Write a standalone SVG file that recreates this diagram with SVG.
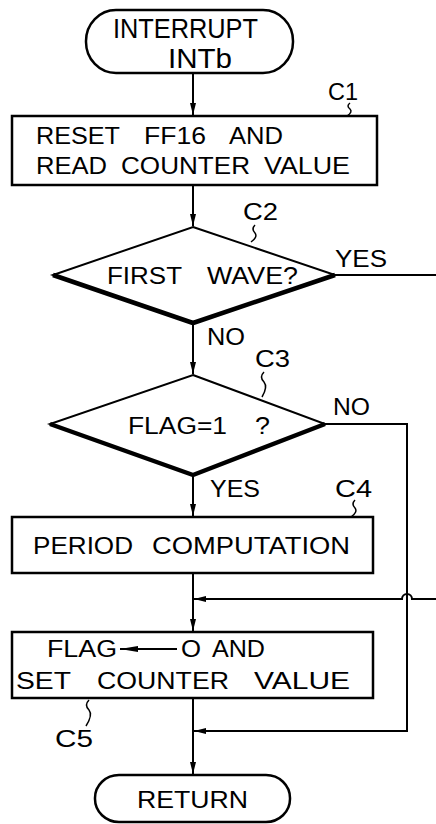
<svg xmlns="http://www.w3.org/2000/svg" width="436" height="824" viewBox="0 0 436 824">
<defs>
<marker id="ah" viewBox="0 0 12 6" refX="12" refY="3" markerWidth="12" markerHeight="6" markerUnits="userSpaceOnUse" orient="auto">
<path d="M0,0 L12,3 L0,6 Z" fill="#000"/>
</marker>
<style>
.t{font-family:"Liberation Sans","Arial",sans-serif;font-size:23px;fill:#000}
.lb{font-family:"Liberation Sans","Arial",sans-serif;font-size:23px;fill:#000}
.box{fill:#fff;stroke:#000;stroke-width:2.5}
.dia{fill:#fff;stroke:#000;stroke-width:2}
.thick{fill:none;stroke:#000;stroke-width:4.5;stroke-linejoin:round}
.ln{fill:none;stroke:#000;stroke-width:2}
.sq{fill:none;stroke:#000;stroke-width:1.5}
</style>
</defs>
<rect width="436" height="824" fill="#fff"/>
<g id="connectors">
<line class="ln" x1="193" y1="73" x2="193" y2="115" marker-end="url(#ah)"/>
<line class="ln" x1="193" y1="185" x2="193" y2="226" marker-end="url(#ah)"/>
<line class="ln" x1="335" y1="275" x2="436" y2="275"/>
<line class="ln" x1="193" y1="323" x2="193" y2="374" marker-end="url(#ah)"/>
<path class="ln" d="M325,424 L407,424 L407,731 L194,731" marker-end="url(#ah)"/>
<line class="ln" x1="193" y1="475" x2="193" y2="516" marker-end="url(#ah)"/>
<line class="ln" x1="193" y1="573" x2="193" y2="631" marker-end="url(#ah)"/>
<path class="ln" d="M436,599 L412,599 A5,5 0 0 0 402,599 L194,599" marker-end="url(#ah)"/>
<line class="ln" x1="193" y1="698" x2="193" y2="774" marker-end="url(#ah)"/>
</g>
<g id="start">
<rect class="box" x="86" y="10" width="207" height="63" rx="30" ry="31"/>
<text class="t" x="113" y="38" textLength="145" lengthAdjust="spacingAndGlyphs" style="font-size:28px">INTERRUPT</text>
<text class="t" x="168" y="68" textLength="64" lengthAdjust="spacingAndGlyphs" style="font-size:28px">INTb</text>
</g>
<g id="C1">
<rect class="box" x="12" y="116" width="365" height="69"/>
<text class="t" x="36" y="144" textLength="84" lengthAdjust="spacingAndGlyphs">RESET</text>
<text class="t" x="144" y="144" textLength="62" lengthAdjust="spacingAndGlyphs">FF16</text>
<text class="t" x="229" y="144" textLength="54" lengthAdjust="spacingAndGlyphs">AND</text>
<text class="t" x="36" y="174" textLength="71" lengthAdjust="spacingAndGlyphs">READ</text>
<text class="t" x="121" y="174" textLength="129" lengthAdjust="spacingAndGlyphs">COUNTER</text>
<text class="t" x="264" y="174" textLength="86" lengthAdjust="spacingAndGlyphs">VALUE</text>
<path class="sq" d="M350,103 q-4,3 0,6 q3,3 -3,7"/>
<text class="lb" x="328" y="100" textLength="30" lengthAdjust="spacingAndGlyphs">C1</text>
</g>
<g id="C2">
<polygon class="dia" points="193,227 335,275 193,323 53,275"/>
<polyline class="thick" points="53,275 193,323 335,275"/>
<text class="t" x="107" y="284" textLength="75" lengthAdjust="spacingAndGlyphs">FIRST</text>
<text class="t" x="207" y="284" textLength="91" lengthAdjust="spacingAndGlyphs">WAVE?</text>
<path class="sq" d="M255,225 q-4,4 0,8 q3,4 -4,9"/>
<text class="lb" x="243" y="220" textLength="35" lengthAdjust="spacingAndGlyphs">C2</text>
<text class="lb" x="335" y="267" textLength="52" lengthAdjust="spacingAndGlyphs">YES</text>
<text class="lb" x="207" y="345" textLength="38" lengthAdjust="spacingAndGlyphs">NO</text>
</g>
<g id="C3">
<polygon class="dia" points="193,375 325,424 193,475 50,424"/>
<polyline class="thick" points="50,424 193,475 325,424"/>
<text class="t" x="128" y="434" textLength="99" lengthAdjust="spacingAndGlyphs">FLAG=1</text>
<text class="t" x="255" y="434" textLength="15" lengthAdjust="spacingAndGlyphs">?</text>
<path class="sq" d="M264,372 q-5,5 0,10 q4,5 -2,15"/>
<text class="lb" x="255" y="367" textLength="35" lengthAdjust="spacingAndGlyphs">C3</text>
<text class="lb" x="333" y="415" textLength="37" lengthAdjust="spacingAndGlyphs">NO</text>
<text class="lb" x="210" y="497" textLength="50" lengthAdjust="spacingAndGlyphs">YES</text>
</g>
<g id="C4">
<rect class="box" x="12" y="517" width="361" height="56"/>
<text class="t" x="33" y="554" textLength="100" lengthAdjust="spacingAndGlyphs">PERIOD</text>
<text class="t" x="152" y="554" textLength="198" lengthAdjust="spacingAndGlyphs">COMPUTATION</text>
<path class="sq" d="M355,500 q-4,4 0,8 q3,4 -4,9"/>
<text class="lb" x="335" y="497" textLength="37" lengthAdjust="spacingAndGlyphs">C4</text>
</g>
<g id="C5">
<rect class="box" x="12" y="632" width="361" height="66"/>
<text class="t" x="47" y="657" textLength="70" lengthAdjust="spacingAndGlyphs">FLAG</text>
<line class="ln" x1="120" y1="649" x2="177" y2="649"/>
<path d="M120,649 L138,646 L138,652 Z" fill="#000"/>
<text class="t" x="181" y="657" textLength="20" lengthAdjust="spacingAndGlyphs">O</text>
<text class="t" x="212" y="657" textLength="53" lengthAdjust="spacingAndGlyphs">AND</text>
<text class="t" x="16" y="689" textLength="55" lengthAdjust="spacingAndGlyphs">SET</text>
<text class="t" x="97" y="689" textLength="132" lengthAdjust="spacingAndGlyphs">COUNTER</text>
<text class="t" x="254" y="689" textLength="96" lengthAdjust="spacingAndGlyphs">VALUE</text>
<path class="sq" d="M89,700 q-5,5 0,10 q4,5 -3,16"/>
<text class="lb" x="55" y="747" textLength="38" lengthAdjust="spacingAndGlyphs">C5</text>
</g>
<g id="return">
<rect class="box" x="95" y="775" width="195" height="47" rx="24" ry="23"/>
<text class="t" x="137" y="808" textLength="111" lengthAdjust="spacingAndGlyphs">RETURN</text>
</g>
</svg>
